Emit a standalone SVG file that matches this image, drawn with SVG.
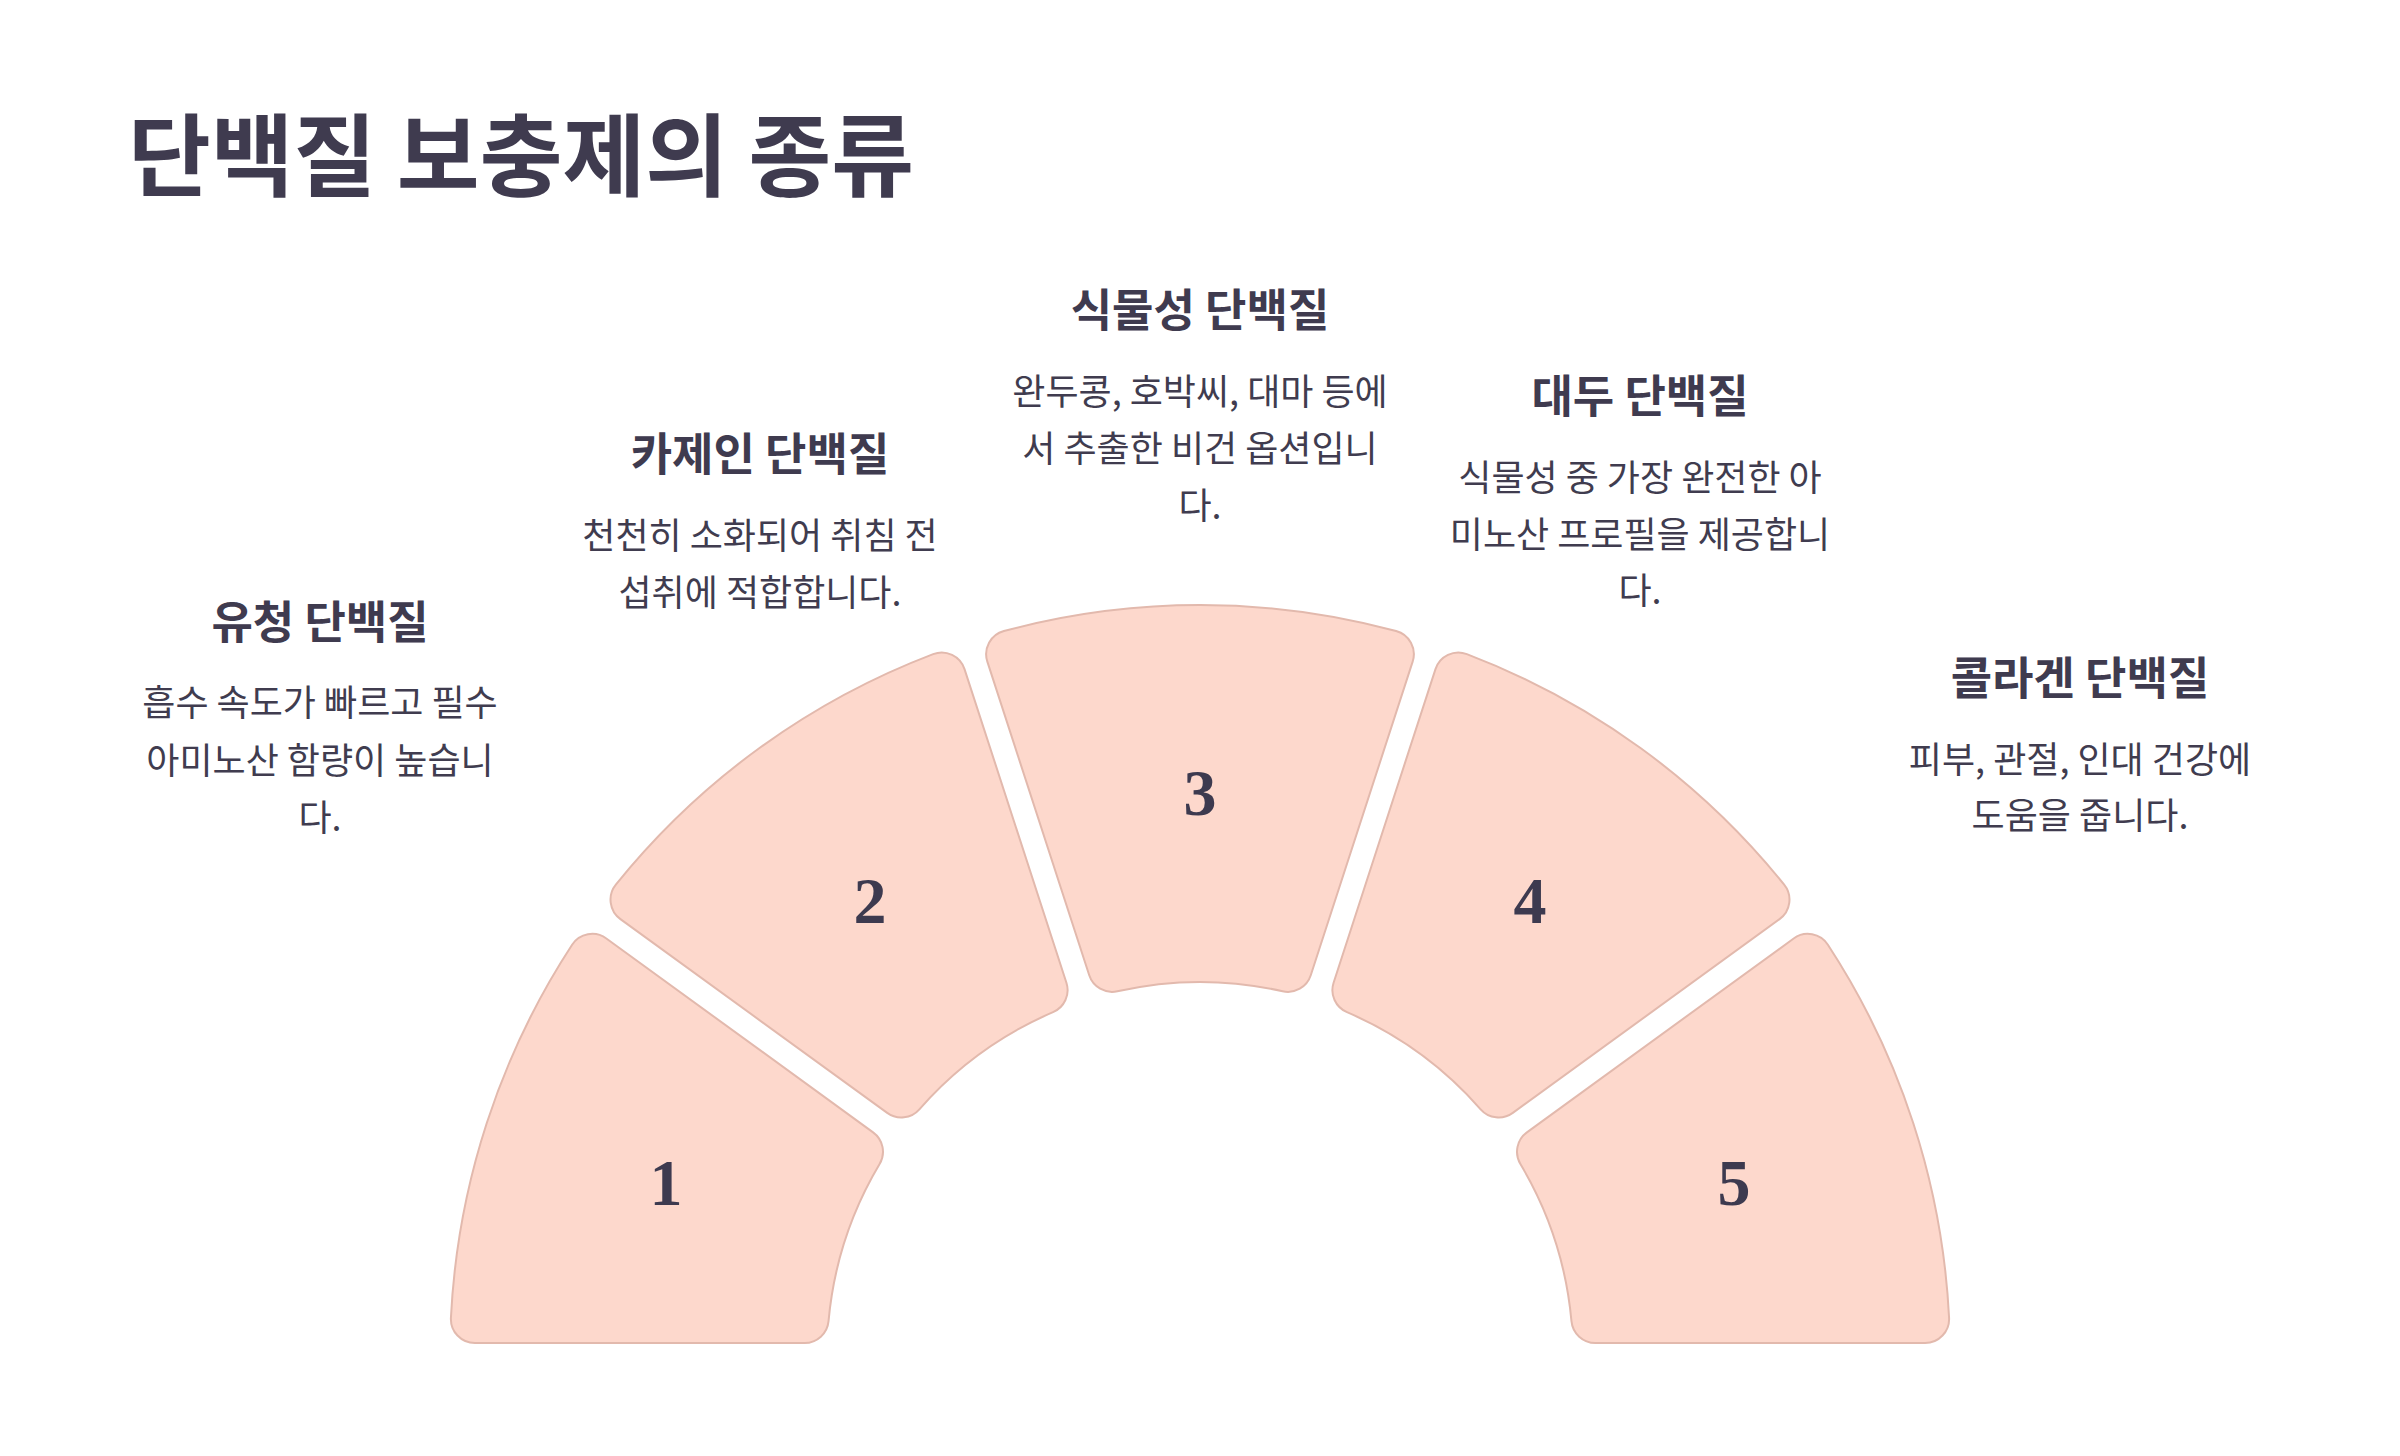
<svg xmlns="http://www.w3.org/2000/svg" width="2400" height="1456" viewBox="0 0 2400 1456">
  <style>
    .seg { fill: #FDD8CC; stroke: #E2B9AD; stroke-width: 2; }
    .num { font-family: "Liberation Serif", "DejaVu Serif", serif; font-weight: 700; font-size: 66px; fill: #3D3A4F; text-anchor: middle; }
    .title { font-family: "Noto Sans CJK KR", "Noto Sans", sans-serif; font-weight: 700; font-size: 90px; fill: #3F3B4F; }
    .head { font-family: "Noto Sans CJK KR", "Noto Sans", sans-serif; font-weight: 700; font-size: 45px; fill: #3F3B4F; text-anchor: middle; }
    .desc { font-family: "Noto Sans CJK KR", "Noto Sans", sans-serif; font-weight: 400; font-size: 36px; fill: #403C4F; text-anchor: middle; }
  </style>
  <defs>
    <path id="sector" d="M -196.11 -723.91 A 750 750 0 0 1 196.11 -723.91 A 24 24 0 0 1 212.66 -693.33 L 110.76 -379.72 A 24 24 0 0 1 82.62 -363.74 A 373 373 0 0 0 -82.62 -363.74 A 24 24 0 0 1 -110.76 -379.72 L -212.66 -693.33 A 24 24 0 0 1 -196.11 -723.91 Z"/>
  </defs>
  <rect width="2400" height="1456" fill="#FFFFFF"/>
  <text class="title" x="128" y="189">단백질 보충제의 종류</text>

  <g id="connectors"></g>

  <g id="node1">
    <use href="#sector" class="seg" transform="translate(1200 1355) rotate(-72)"/>
    <text class="num" x="666" y="1205">1</text>
    <text class="head" x="320" y="639">유청 단백질</text>
    <text class="desc" x="320" y="716">흡수 속도가 빠르고 필수</text>
    <text class="desc" x="320" y="774">아미노산 함량이 높습니</text>
    <text class="desc" x="320" y="831">다.</text>
  </g>
  <g id="node2">
    <use href="#sector" class="seg" transform="translate(1200 1355) rotate(-36)"/>
    <text class="num" x="870" y="923">2</text>
    <text class="head" x="760" y="471">카제인 단백질</text>
    <text class="desc" x="760" y="549">천천히 소화되어 취침 전</text>
    <text class="desc" x="760" y="606">섭취에 적합합니다.</text>
  </g>
  <g id="node3">
    <use href="#sector" class="seg" transform="translate(1200 1355)"/>
    <text class="num" x="1200" y="815">3</text>
    <text class="head" x="1200" y="327">식물성 단백질</text>
    <text class="desc" x="1200" y="405">완두콩, 호박씨, 대마 등에</text>
    <text class="desc" x="1200" y="462">서 추출한 비건 옵션입니</text>
    <text class="desc" x="1200" y="519">다.</text>
  </g>
  <g id="node4">
    <use href="#sector" class="seg" transform="translate(1200 1355) rotate(36)"/>
    <text class="num" x="1530" y="923">4</text>
    <text class="head" x="1640" y="413">대두 단백질</text>
    <text class="desc" x="1640" y="491">식물성 중 가장 완전한 아</text>
    <text class="desc" x="1640" y="548">미노산 프로필을 제공합니</text>
    <text class="desc" x="1640" y="604">다.</text>
  </g>
  <g id="node5">
    <use href="#sector" class="seg" transform="translate(1200 1355) rotate(72)"/>
    <text class="num" x="1734" y="1205">5</text>
    <text class="head" x="2080" y="695">콜라겐 단백질</text>
    <text class="desc" x="2080" y="773">피부, 관절, 인대 건강에</text>
    <text class="desc" x="2080" y="829">도움을 줍니다.</text>
  </g>
</svg>
